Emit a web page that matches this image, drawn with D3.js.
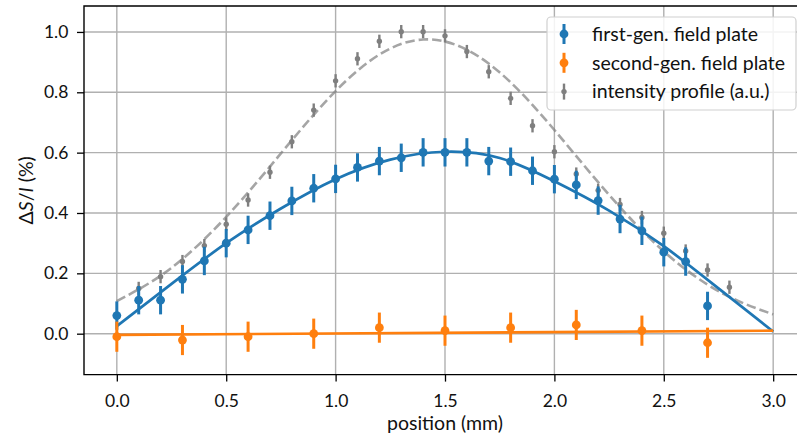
<!DOCTYPE html>
<html>
<head>
<meta charset="utf-8">
<script src="https://cdn.jsdelivr.net/npm/d3@7"></script>
<style>
  html, body { margin: 0; padding: 0; background: #fff; }
  svg { display: block; font-family: Lato, "Open Sans", sans-serif; }
</style>
</head>
<body>
<svg id="chart" width="797" height="439"></svg>
<script>
// ---------- data ----------
const xTicks = [0.0, 0.5, 1.0, 1.5, 2.0, 2.5, 3.0];
const yTicks = [0.0, 0.2, 0.4, 0.6, 0.8, 1.0];

const firstGenPos = [0.0,0.1,0.2,0.3,0.4,0.5,0.6,0.7,0.8,0.9,1.0,1.1,1.2,1.3,1.4,1.5,1.6,1.7,1.8,1.9,2.0,2.1,2.2,2.3,2.4,2.5,2.6,2.7];
const firstGenVal = [0.060,0.111,0.111,0.180,0.241,0.300,0.344,0.391,0.440,0.482,0.513,0.551,0.572,0.583,0.601,0.601,0.601,0.572,0.570,0.540,0.512,0.493,0.441,0.380,0.341,0.270,0.239,0.092];
const firstGenErr = 0.047;

const secondGenPos = [0.0,0.3,0.6,0.9,1.2,1.5,1.8,2.1,2.4,2.7];
const secondGenVal = [-0.010,-0.021,-0.010,0.000,0.020,0.010,0.020,0.029,0.010,-0.030];
const secondGenErr = 0.05;

const intensityPos = [0.1,0.2,0.3,0.4,0.5,0.6,0.7,0.8,0.9,1.0,1.1,1.2,1.3,1.4,1.5,1.6,1.7,1.8,1.9,2.0,2.1,2.2,2.3,2.4,2.5,2.6,2.7,2.8];
const intensityVal = [0.150,0.189,0.239,0.292,0.363,0.443,0.535,0.636,0.741,0.838,0.911,0.969,1.001,1.001,0.987,0.935,0.868,0.780,0.689,0.603,0.529,0.475,0.428,0.385,0.333,0.274,0.211,0.154];
const intensityErr = 0.022;

// fitted curves
const firstFitPos = [0.0,0.25,0.5,0.75,1.0,1.25,1.5,1.75,2.0,2.25,2.5,2.75,3.0];
const firstFitVal = [0.025,0.165,0.300,0.415,0.512,0.577,0.603,0.582,0.505,0.408,0.290,0.150,0.007];
const secondFitPos = [0.0,3.0];
const secondFitVal = [-0.004,0.010];
const intensityFitPos = [0.0,0.2,0.4,0.6,0.8,1.0,1.2,1.4,1.6,1.8,2.0,2.2,2.4,2.6,2.8,3.0];
const intensityFitVal = [0.108,0.192,0.313,0.468,0.641,0.804,0.925,0.975,0.941,0.833,0.675,0.502,0.342,0.213,0.122,0.064];

const legendLabels = ["first-gen. field plate", "second-gen. field plate", "intensity profile (a.u.)"];
const xLabel = "position (mm)";

// ---------- layout ----------
const blue = "#1f77b4", orange = "#ff7f0e", grey = "#7f7f7f";
const pLeft = 84, pRight = 806, pTop = 6, pBottom = 374.6;
const tickFont = 17.5, textFont = 19.5;

const svg = d3.select("#chart");
const x = d3.scaleLinear().domain([-0.15, 3.15]).range([pLeft, pRight]);
const y = d3.scaleLinear().domain([-0.1356, 1.086]).range([pBottom, pTop]);

// grid
const grid = svg.append("g");
grid.selectAll("line.gx").data(xTicks).join("line").attr("class", "gx")
  .attr("x1", d => x(d)).attr("x2", d => x(d)).attr("y1", pTop).attr("y2", pBottom)
  .attr("stroke", "#b0b0b0").attr("stroke-width", 1.4);
grid.selectAll("line.gy").data(yTicks).join("line").attr("class", "gy")
  .attr("y1", d => y(d)).attr("y2", d => y(d)).attr("x1", pLeft).attr("x2", pRight)
  .attr("stroke", "#b0b0b0").attr("stroke-width", 1.4);

// axes
const xAxis = svg.append("g").attr("transform", `translate(0,${pBottom})`)
  .call(d3.axisBottom(x).tickValues(xTicks).tickFormat(d3.format(".1f")).tickSize(7).tickPadding(12.5));
const yAxis = svg.append("g").attr("transform", `translate(${pLeft},0)`)
  .call(d3.axisLeft(y).tickValues(yTicks).tickFormat(d3.format(".1f")).tickSize(7).tickPadding(8.7));
[xAxis, yAxis].forEach(a => {
  a.select(".domain").remove();
  a.selectAll("line").attr("stroke", "#000").attr("stroke-width", 1.3);
  a.selectAll("text").attr("font-size", tickFont).attr("fill", "#111").attr("font-family", "Lato, sans-serif");
});

// spines
svg.append("path")
  .attr("d", `M${pRight},${pTop}H${pLeft}V${pBottom}H${pRight}`)
  .attr("fill", "none").attr("stroke", "#000").attr("stroke-width", 1.4);

const line = d3.line().x(d => x(d[0])).y(d => y(d[1]));

// intensity fit (dashed)
svg.append("path")
  .datum(d3.zip(intensityFitPos, intensityFitVal))
  .attr("d", line.curve(d3.curveNatural))
  .attr("fill", "none").attr("stroke", grey).attr("stroke-opacity", 0.7)
  .attr("stroke-width", 2.6).attr("stroke-dasharray", "9.5,4");

function errorbars(pos, val, err, color, r, w) {
  const g = svg.append("g");
  const data = d3.zip(pos, val);
  g.selectAll("line").data(data).join("line")
    .attr("x1", d => x(d[0])).attr("x2", d => x(d[0]))
    .attr("y1", d => y(d[1] - err)).attr("y2", d => y(d[1] + err))
    .attr("stroke", color).attr("stroke-width", w);
  g.selectAll("circle").data(data).join("circle")
    .attr("cx", d => x(d[0])).attr("cy", d => y(d[1])).attr("r", r)
    .attr("fill", color);
}

errorbars(intensityPos, intensityVal, intensityErr, grey, 2.7, 2.4);
errorbars(firstGenPos, firstGenVal, firstGenErr, blue, 4.4, 3);
svg.append("path")
  .datum(d3.zip(firstFitPos, firstFitVal))
  .attr("d", line.curve(d3.curveNatural))
  .attr("fill", "none").attr("stroke", blue).attr("stroke-width", 2.7);
errorbars(secondGenPos, secondGenVal, secondGenErr, orange, 4.4, 3);
svg.append("path")
  .datum(d3.zip(secondFitPos, secondFitVal))
  .attr("d", line.curve(d3.curveLinear))
  .attr("fill", "none").attr("stroke", orange).attr("stroke-width", 2.7);

// axis labels
svg.append("text").attr("x", (pLeft + pRight) / 2).attr("y", 429.5)
  .attr("text-anchor", "middle").attr("font-size", textFont).attr("fill", "#111")
  .text(xLabel);
const yl = svg.append("text")
  .attr("transform", `translate(32.5,${(pTop + pBottom) / 2}) rotate(-90)`)
  .attr("text-anchor", "middle").attr("font-size", textFont).attr("fill", "#111");
yl.append("tspan").text("Δ");
yl.append("tspan").attr("font-style", "italic").text("S");
yl.append("tspan").text("/");
yl.append("tspan").attr("font-style", "italic").text("I");
yl.append("tspan").text(" (%)");

// legend
const lg = svg.append("g");
lg.append("rect").attr("x", 547).attr("y", 17).attr("width", 249).attr("height", 93)
  .attr("rx", 4).attr("fill", "#fff").attr("fill-opacity", 0.85)
  .attr("stroke", "#d0d0d0").attr("stroke-width", 1.2);
const legendColors = [blue, orange, grey];
const legendR = [4.4, 4.4, 2.7];
const legendW = [3, 3, 2.4];
const legendHalf = [10, 10, 8];
legendLabels.forEach((lab, i) => {
  const cy = 34 + i * 28.8;
  lg.append("line").attr("x1", 564).attr("x2", 564)
    .attr("y1", cy - legendHalf[i]).attr("y2", cy + legendHalf[i])
    .attr("stroke", legendColors[i]).attr("stroke-width", legendW[i]);
  lg.append("circle").attr("cx", 564).attr("cy", cy).attr("r", legendR[i]).attr("fill", legendColors[i]);
  lg.append("text").attr("x", 592).attr("y", cy + 6.7).attr("font-size", textFont).attr("fill", "#111").text(lab);
});
</script>
</body>
</html>
